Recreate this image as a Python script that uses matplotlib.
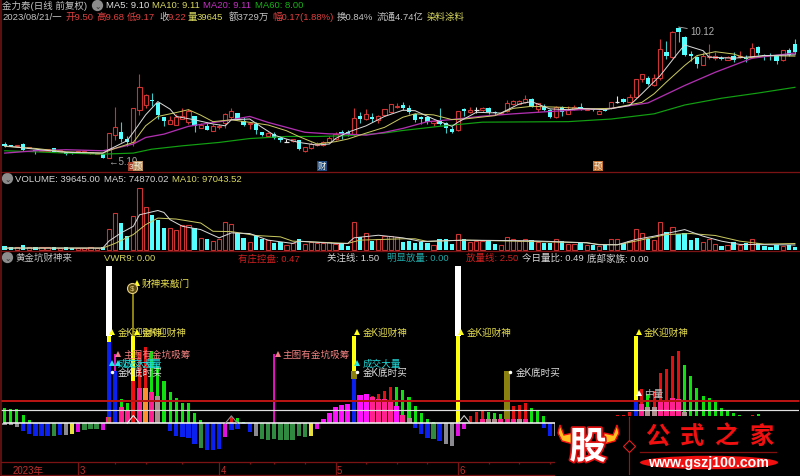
#!/usr/bin/env python3
"""daily k-line, volume and the 黄金坑财神来 indicator, black terminal style"""
import matplotlib
matplotlib.use('Agg')
import numpy as np
import matplotlib.pyplot as plt
import matplotlib.patheffects as pe
from matplotlib.patches import Rectangle, Ellipse, Polygon

plt.rcParams['font.family'] = ['Liberation Sans', 'Noto Sans CJK SC']

# candles, one per trading day
opens = [5.62, 5.60, 5.53, 5.62, 5.45, 5.40, 5.36, 5.37, 5.45, 5.32,
         5.32, 5.30, 5.30, 5.30, 5.26, 5.25, 5.22, 5.07, 5.96, 6.10,
         5.83, 5.68, 6.92, 7.12, 7.32, 7.18, 6.64, 6.39, 6.37, 6.60,
         6.45, 6.68, 6.22, 6.32, 6.12, 6.27, 6.42, 6.66, 6.81, 6.49,
         6.39, 6.40, 6.08, 5.94, 6.01, 5.87, 5.71, 5.73, 5.76, 5.35,
         5.48, 5.59, 5.58, 5.68, 5.81, 6.07, 6.07, 6.00, 6.68, 6.58,
         6.64, 6.55, 6.73, 6.86, 7.04, 7.12, 7.01, 6.79, 6.66, 6.67,
         6.43, 6.52, 6.42, 6.21, 6.14, 6.97, 6.84, 6.94, 6.94, 7.01,
         6.85, 6.79, 6.90, 7.15, 7.17, 7.22, 7.35, 6.97, 7.07, 6.92,
         6.64, 7.06, 6.79, 6.97, 7.05, 6.94, 6.96, 6.79, 6.94, 6.99,
         7.25, 7.34, 7.25, 7.43, 8.12, 8.17, 7.89, 8.15, 9.17, 8.97,
         10.10, 9.75, 9.08, 8.98, 8.67, 8.97, 8.92, 8.93, 8.85, 9.02,
         8.97, 8.94, 8.97, 9.35, 9.05, 9.05, 9.02, 8.84, 9.25, 9.48]
closes = [5.53, 5.54, 5.59, 5.40, 5.49, 5.37, 5.39, 5.42, 5.30, 5.39,
          5.23, 5.26, 5.35, 5.36, 5.30, 5.27, 5.08, 6.04, 6.28, 5.83,
          5.68, 7.02, 7.80, 7.50, 7.27, 6.73, 6.50, 6.54, 6.67, 6.68,
          6.90, 6.32, 6.35, 6.14, 6.30, 6.30, 6.77, 6.90, 6.60, 6.37,
          6.41, 6.14, 5.96, 6.04, 5.86, 5.76, 5.71, 5.81, 5.42, 5.49,
          5.62, 5.63, 5.71, 5.87, 6.01, 5.99, 5.99, 6.62, 6.60, 6.76,
          6.60, 6.71, 6.96, 7.14, 7.09, 6.99, 6.84, 6.53, 6.58, 6.48,
          6.51, 6.38, 6.22, 6.08, 6.88, 6.90, 6.94, 6.94, 6.99, 6.84,
          6.80, 6.83, 7.20, 7.28, 7.29, 7.34, 7.05, 7.19, 6.93, 6.64,
          7.06, 6.84, 6.92, 7.05, 6.98, 6.99, 6.92, 6.90, 6.90, 7.22,
          7.25, 7.25, 7.44, 8.11, 8.30, 7.94, 8.17, 9.26, 9.02, 9.92,
          9.94, 9.05, 9.02, 8.71, 9.00, 9.00, 9.00, 8.88, 8.98, 8.87,
          9.00, 8.88, 9.33, 9.11, 9.02, 9.00, 8.83, 9.22, 9.05, 9.15]
highs = [5.68, 5.60, 5.59, 5.65, 5.49, 5.40, 5.40, 5.43, 5.45, 5.39,
         5.33, 5.30, 5.35, 5.40, 5.30, 5.27, 5.25, 6.04, 7.03, 6.45,
         5.91, 7.02, 8.30, 7.54, 7.60, 7.22, 6.64, 6.68, 6.77, 7.02,
         6.96, 6.71, 6.42, 6.45, 6.39, 6.39, 6.83, 6.99, 6.83, 6.64,
         6.41, 6.45, 6.10, 6.07, 6.07, 5.91, 5.83, 5.83, 5.78, 5.50,
         5.68, 5.68, 5.75, 5.94, 6.07, 6.14, 6.14, 6.99, 6.86, 6.96,
         6.81, 6.73, 6.96, 7.17, 7.19, 7.22, 7.12, 6.80, 6.71, 6.71,
         6.53, 6.99, 6.46, 6.30, 6.88, 6.99, 7.05, 7.05, 7.03, 7.03,
         6.89, 6.84, 7.33, 7.31, 7.31, 7.51, 7.38, 7.20, 7.15, 6.97,
         7.07, 7.10, 7.07, 7.12, 7.20, 7.01, 6.97, 6.92, 6.97, 7.22,
         7.48, 7.40, 7.53, 8.12, 8.30, 8.22, 8.30, 9.66, 9.58, 9.98,
         10.12, 9.79, 9.21, 9.02, 9.15, 9.47, 9.17, 9.02, 9.02, 9.17,
         9.21, 9.05, 9.51, 9.40, 9.10, 9.12, 9.05, 9.22, 9.33, 9.64]
lows = [5.49, 5.54, 5.53, 5.37, 5.45, 5.23, 5.35, 5.37, 5.30, 5.32,
        5.20, 5.25, 5.30, 5.29, 5.25, 5.25, 5.08, 5.07, 5.78, 5.68,
        5.55, 5.53, 6.73, 6.99, 7.07, 6.60, 6.32, 6.39, 6.37, 6.58,
        6.39, 6.09, 6.22, 6.14, 6.12, 6.19, 6.22, 6.60, 6.55, 6.30,
        6.19, 6.01, 5.94, 5.91, 5.83, 5.71, 5.68, 5.71, 5.40, 5.32,
        5.42, 5.55, 5.55, 5.65, 5.78, 5.83, 5.94, 5.94, 6.42, 6.55,
        6.48, 6.42, 6.71, 6.83, 6.99, 6.94, 6.78, 6.48, 6.40, 6.38,
        6.33, 6.35, 6.05, 6.05, 6.12, 6.71, 6.81, 6.81, 6.84, 6.79,
        6.75, 6.78, 6.87, 7.12, 7.15, 7.20, 7.03, 6.87, 6.89, 6.61,
        6.62, 6.69, 6.79, 6.94, 6.94, 6.92, 6.90, 6.78, 6.88, 6.97,
        7.20, 7.20, 7.22, 7.40, 8.02, 7.90, 7.87, 8.10, 8.89, 8.94,
        9.53, 9.00, 8.83, 8.56, 8.66, 8.89, 8.87, 8.84, 8.84, 8.79,
        8.92, 8.79, 8.92, 9.05, 8.84, 8.84, 8.69, 8.82, 9.00, 9.08]

# price averages, read at the turning points of each line
ma5_x = [0, 5, 10, 16, 17, 20, 21, 23, 25, 27, 28, 31, 34, 36, 37, 40, 42, 44, 46, 48, 51, 53, 54,
         56, 59, 62, 65, 67, 70, 73, 74, 77, 81, 84, 86, 89, 92, 94, 98, 102, 104, 107, 110, 111,
         114, 115, 119, 124, 129]
ma5_y = [5.55, 5.42, 5.30, 5.27, 5.40, 5.75, 6.07, 6.74, 7.25, 6.96, 6.68, 6.55, 6.39, 6.32, 6.55,
         6.58, 6.26, 5.96, 5.81, 5.68, 5.58, 5.62, 5.83, 6.07, 6.32, 6.68, 6.92, 6.90, 6.58, 6.30,
         6.46, 6.84, 6.81, 7.16, 7.25, 6.97, 6.94, 6.99, 6.94, 7.10, 7.55, 8.25, 9.15, 9.43, 9.21,
         8.96, 8.92, 9.02, 9.05]
ma10_x = [0, 5, 10, 16, 18, 21, 23, 25, 28, 30, 32, 34, 37, 41, 43, 46, 48, 51, 54, 56, 59, 62, 65,
          67, 70, 73, 75, 80, 83, 86, 91, 95, 99, 104, 106, 108, 111, 113, 116, 119, 121, 124, 129]
ma10_y = [5.53, 5.45, 5.32, 5.27, 5.45, 5.68, 6.32, 6.68, 6.83, 6.94, 6.73, 6.48, 6.55, 6.42, 6.35,
          6.13, 5.91, 5.62, 5.71, 5.81, 6.04, 6.26, 6.65, 6.78, 6.74, 6.56, 6.58, 6.71, 6.99, 7.07,
          7.03, 6.97, 6.99, 7.22, 7.55, 8.00, 8.64, 9.02, 9.17, 9.08, 8.92, 9.02, 9.00]
ma20_x = [0, 5, 10, 16, 18, 21, 23, 26, 30, 33, 36, 40, 43, 46, 49, 53, 56, 59, 62, 65, 69, 73, 78,
          83, 89, 94, 99, 105, 111, 116, 122, 129]
ma20_y = [5.27, 5.36, 5.40, 5.36, 5.45, 5.62, 5.87, 6.00, 6.30, 6.41, 6.51, 6.68, 6.45, 6.26, 6.07,
          6.01, 6.00, 5.96, 6.07, 6.22, 6.48, 6.56, 6.69, 6.78, 6.87, 6.94, 6.99, 7.20, 7.87, 8.38,
          8.92, 9.12]
ma60_x = [0, 5, 10, 16, 21, 24, 29, 35, 40, 46, 51, 56, 62, 65, 71, 78, 92, 99, 106, 111, 117, 123, 129]
ma60_y = [5.36, 5.32, 5.27, 5.23, 5.27, 5.42, 5.55, 5.68, 5.83, 5.91, 5.91, 5.94, 6.04, 6.14, 6.30,
          6.46, 6.48, 6.58, 6.78, 7.12, 7.38, 7.58, 7.80]

# volume in thousands of lots
volume = [59, 49, 49, 74, 49, 44, 44, 44, 44, 34, 44, 34, 34, 34, 39, 34, 49, 314, 549, 402,
          216, 510, 916, 637, 519, 451, 333, 328, 304, 377, 377, 333, 181, 157, 137, 157, 412, 387, 255, 181,
          122, 206, 167, 147, 98, 118, 78, 98, 167, 88, 118, 98, 98, 118, 88, 98, 59, 417, 196, 255,
          132, 157, 206, 206, 191, 118, 132, 108, 118, 108, 78, 167, 157, 88, 245, 167, 118, 127, 137, 137,
          88, 69, 196, 157, 127, 167, 147, 118, 108, 98, 167, 132, 88, 88, 98, 78, 69, 59, 69, 157,
          167, 98, 127, 314, 255, 167, 147, 417, 274, 343, 245, 255, 147, 186, 118, 167, 88, 59, 78, 118,
          78, 98, 157, 108, 59, 49, 78, 59, 69, 39]
vol5_x = [0, 16, 17, 19, 21, 22, 25, 26, 27, 29, 32, 35, 37, 40, 43, 47, 48, 54, 56, 57, 61, 65, 68,
          75, 86, 95, 97, 100, 103, 106, 111, 114, 117, 120, 129]
vol5_y = [29, 29, 132, 255, 353, 524, 588, 559, 451, 353, 304, 181, 255, 245, 147, 98, 132, 98, 98,
          181, 220, 181, 127, 147, 137, 108, 78, 78, 157, 206, 304, 206, 132, 83, 75]
vol10_x = [0, 16, 18, 21, 23, 25, 28, 32, 34, 37, 41, 45, 47, 51, 56, 58, 65, 67, 69, 75, 86, 95, 97,
           100, 103, 108, 112, 116, 120, 124, 129]
vol10_y = [29, 29, 98, 230, 377, 475, 461, 402, 279, 274, 216, 196, 132, 118, 98, 147, 167, 167, 127,
           147, 127, 108, 83, 78, 132, 230, 245, 216, 132, 88, 97]

# indicator histogram above zero: r rising, g falling
up_i = [0, 1, 2, 3, 4, 19, 20, 22, 23, 24, 25, 26, 27, 28, 29, 30, 31, 32, 37, 38, 39,
        60, 61, 62, 63, 64, 65, 66, 67, 68, 69, 70, 76, 77, 78, 79, 80, 81, 82, 83, 84, 85, 86, 87, 88,
        100, 101, 102, 104, 105, 106, 107, 108, 109, 110, 111, 112, 113, 114, 115, 116, 117, 118, 119, 120, 122, 123]
up_v = [1.75, 1.6, 1.6, 0.95, 0.38, 2.78, 2.29, 8.11, 8.69, 8.23, 6.59, 4.8, 3.54, 2.86, 2.29, 2.29, 1.14, 0.38, 0.69, 0.61, 0.11,
        3.16, 3.35, 3.66, 4.11, 4.11, 3.85, 3.05, 1.94, 1.18, 0.5, 0.11, 0.88, 1.26, 1.45, 1.33, 1.18, 1.07, 1.45, 1.94, 2.1, 2.32, 1.71, 1.45, 0.88,
        0.91, 0.95, 1.33, 3.92, 3.35, 3.73, 5.71, 6.2, 7.66, 8.23, 6.67, 5.37, 4.0, 3.16, 2.86, 2.4, 1.71, 1.45, 1.14, 0.91, 0.95, 1.03]
up_c = list('gggggggrrgggggggggrgg' 'rrrrgggggggrrrgggrrrrggg' 'rrrrgrrrrrggggggggggrg')

# pale under-layer: m magenta, p pink, o orange, y grey
pale_i = [17, 19, 20, 22, 23, 24, 25, 52, 53, 54, 55, 56, 58, 59, 60, 61, 62, 63, 64, 65, 66,
          78, 79, 80, 81, 82, 83, 84, 85, 104, 105, 106, 107, 108, 109, 110, 111]
pale_v = [0.7, 1.83, 1.45, 4.04, 4.04, 3.54, 3.16, 0.5, 1.18, 1.83, 2.1, 2.17, 3.24, 3.35, 2.97, 2.8, 2.8, 2.6, 1.94, 1.0, 0.6,
          0.5, 0.5, 0.5, 0.5, 0.5, 0.5, 0.5, 0.5, 2.2, 1.83, 1.83, 2.4, 2.48, 2.86, 2.78, 1.26]
pale_c = list('ppppopy' 'mmmmmmmppppmpy' 'pyypppyp' 'pyyppppy')

# below zero: b blue, d dull green, y grey, k yellow, m magenta
neg_i = [0, 1, 2, 3, 4, 5, 6, 7, 8, 9, 10, 11, 12, 13, 14, 15, 16,
         27, 28, 29, 30, 31, 32, 33, 34, 35, 36, 37, 38, 39, 40, 41, 42, 43, 44,
         45, 46, 47, 48, 49, 50, 51, 67, 68, 69, 70, 71, 72, 73, 74, 75, 88, 89, 90]
neg_v = [-0.15, -0.23, -0.38, -0.84, -1.2, -1.5, -1.5, -1.45, -1.45, -1.37, -1.37, -1.2, -1.0, -0.76, -0.65, -0.65, -0.8,
         -0.91, -1.4, -1.6, -1.68, -2.36, -2.83, -3.1, -3.1, -2.95, -1.6, -0.76, -0.65, -0.08, -1.03, -1.5, -1.8, -1.9, -1.8,
         -1.87, -1.87, -1.9, -1.4, -1.6, -1.4, -0.65, -0.57, -1.2, -1.7, -1.8, -2.0, -2.4, -2.55, -1.4, -0.6, -0.5, -1.5, -1.4]
neg_c = list('yyybbbbbdbykmdddm' 'bbbbbdbbbmbbbbyddd' 'dddddkm' 'bbbdbyymm' 'bby')

# signal columns
sig_i = [17, 17, 17, 17, 18, 18, 21, 21, 21, 44, 57, 57, 57, 74, 74, 82, 103, 103]
sig_lo = [0.0, 0.7, 9.26, 10.0, 0.0, 6.0, 0.0, 4.88, 10.0, 0.0, 0.0, 5.07, 6.0, 0.0, 10.0, 0.5, 0.0, 2.59]
sig_hi = [6.0, 9.26, 10.0, 18.0, 6.0, 7.9, 4.88, 10.0, 14.8, 7.9, 5.07, 6.0, 10.0, 10.0, 18.0, 6.0, 2.4, 10.0]
sig_kind = ['olive_thin', 'blue', 'yellow', 'white', 'blue', 'mag', 'red', 'yellow', 'olive_thin', 'mag',
            'blue', 'olive_wide', 'yellow', 'yellow', 'white', 'olive_wide', 'blue', 'yellow']

tri_i = [21, 37, 75]
tri_v = [0.9, 0.85, 0.88]
tri_c = ['#f0f0f0', '#909090', '#d0d0d0']

# signal labels
lab_i = [21, 17, 21, 18, 44, 17, 18, 57, 17, 57, 57, 74, 82, 103, 103]
lab_v = [16.0, 10.4, 10.4, 7.9, 7.9, 6.9, 6.9, 6.9, 5.9, 5.9, 10.4, 10.4, 5.9, 10.4, 3.46]
lab_t = ['财神来敲门', '金K迎财神', '金K迎财神', '主图有金坑吸筹', '主图有金坑吸筹', '成交大量', '成交大量', '成交大量',
         '金K底时买', '金K底时买', '金K迎财神', '金K迎财神', '金K底时买', '金K迎财神', '中量']
lab_k = ['gold', 'gold', 'gold', 'pink', 'pink', 'cyan', 'cyan', 'cyan', 'dot', 'dot', 'gold', 'gold', 'dot', 'gold', 'white']

month_ticks = [12, 35, 54, 74]
month_labels = ['3', '4', '5', '6']
week_ticks = [18, 23, 29, 40, 44, 49, 59, 64, 69, 79, 84, 89]

RED = '#cc3333'
CYAN = '#55ffff'
BORDER = '#7a1414'
bars = np.arange(len(opens))
opens, closes, highs, lows = map(np.array, (opens, closes, highs, lows))
PX_PER_BAR = 6.126


def panel(top, bottom, left=1, right=799):
    ax = fig.add_axes([left / 800, 1 - bottom / 477, (right - left) / 800, (bottom - top) / 477])
    ax.set_facecolor('black')
    ax.set_xlim((left - 4.7) / PX_PER_BAR, (right - 4.7) / PX_PER_BAR)
    ax.set_xticks([])
    ax.set_yticks([])
    for s in ax.spines.values():
        s.set_visible(False)
    return ax


def px(n):
    # pixels to line width / offset points
    return n * 0.72


def icon(x, y):
    fig.text(x / 800, 1 - y / 477, '⌄', color='#303030', fontsize=5.5, ha='center', va='center', family='DejaVu Sans',
             bbox=dict(boxstyle='circle,pad=0.15', fc='#8c8c8c', ec='none'))


def head(x, y, s, color, size=6.8):
    fig.text(x / 800, 1 - y / 477, s, color=color, fontsize=size, ha='left', va='center')


fig = plt.figure(figsize=(8.0, 4.77), dpi=100, facecolor='black')

# price panel
ax = panel(0, 173)
ax.set_ylim(10.12 - 145 / 26, 10.12 + 28 / 26)
rising = closes > opens
falling = closes < opens
doji = closes == opens
ax.vlines(bars[rising], lows[rising], highs[rising], color=RED, lw=px(1.1))
ax.bar(bars[rising], (closes - opens)[rising], bottom=opens[rising], width=0.68,
       facecolor='black', edgecolor=RED, lw=px(1.1), zorder=2)
ax.vlines(bars[falling], lows[falling], highs[falling], color='#3fc8c8', lw=px(1.1))
ax.bar(bars[falling], (closes - opens)[falling], bottom=opens[falling], width=0.72, color=CYAN, zorder=2)
ax.vlines(bars[doji], lows[doji], highs[doji], color='#e8e8e8', lw=px(1.1))
ax.hlines(closes[doji], bars[doji] - 0.35, bars[doji] + 0.35, color='#e8e8e8', lw=px(1.2))
ax.plot(ma60_x, ma60_y, color='#12a012', lw=px(1.2), zorder=3)
ax.plot(ma20_x, ma20_y, color='#b030b0', lw=px(1.3), zorder=3)
ax.plot(ma10_x, ma10_y, color='#c8c860', lw=px(1.0), zorder=3)
ax.plot(ma5_x, ma5_y, color='#d8d8d8', lw=px(1.0), zorder=3)
ax.annotate('10.12', xy=(110, 10.12), xytext=(px(11.5), px(-4)), textcoords='offset points',
            color='#b0b0b0', fontsize=6.9, va='center', ha='left',
            arrowprops=dict(arrowstyle='-', color='#b0b0b0', lw=0.6, shrinkA=0, shrinkB=0))
ax.annotate('←5.10', xy=(17, 5.07), xytext=(0, px(-2.4)), textcoords='offset points',
            color='#a8a8a8', fontsize=6.9, va='center', ha='left')
# calendar flags along the bottom of the panel
for i, s, c in [(20.6, '3', '#a03c28'), (21.8, '预', '#b89060'), (51.8, '财', '#1f4a80'), (96.9, '预', '#c07030')]:
    ax.text(i, 0.032, s, transform=ax.get_xaxis_transform(), color='#f4f0e0', fontsize=6.0, ha='center', va='center',
            bbox=dict(boxstyle='square,pad=0.12', fc=c, ec='none'), zorder=5)

# volume panel
ax = panel(173, 252)
ax.set_ylim(-14.7, 79 * 14.7)
volume = np.array(volume)
ax.bar(bars[~falling], volume[~falling], width=0.68, facecolor='black', edgecolor=RED, lw=px(1.1))
ax.bar(bars[falling], volume[falling], width=0.72, color=CYAN)
ax.plot(vol10_x, vol10_y, color='#c8c860', lw=px(1.0))
ax.plot(vol5_x, vol5_y, color='#d8d8d8', lw=px(1.0))

# indicator panel
ax = panel(252, 463)
ax.set_ylim((424.3 - 463) / 8.75, (424.3 - 252) / 8.75)
ax.axhline(2.5, color='#b81414', lw=px(2), zorder=5)
ax.axhline(1.5, color='#e0e0e0', lw=px(1.2), zorder=5)
up_colors = {'r': '#e01010', 'g': '#10e010'}
pale_colors = {'m': '#ff10ff', 'p': '#ff2090', 'o': '#ff9030', 'y': '#b09090'}
neg_colors = {'b': '#0a20f0', 'd': '#308a40', 'y': '#8a8a90', 'k': '#e8e040', 'm': '#e010e0'}
ax.bar(up_i, up_v, width=0.5, color=[up_colors[k] for k in up_c], zorder=2)
ax.bar(pale_i, pale_v, width=0.82, color=[pale_colors[k] for k in pale_c], zorder=3)
ax.bar(neg_i, neg_v, width=0.72, color=[neg_colors[k] for k in neg_c], zorder=2)
sig_style = {'blue': ('#0a20f0', 0.65), 'yellow': ('#ffff10', 0.65), 'white': ('#ffffff', 0.9),
             'olive_thin': ('#8a8010', 0.33), 'olive_wide': ('#8a8010', 1.1), 'mag': ('#e010c0', 0.33),
             'red': ('#f01010', 0.65)}
for i, lo, hi, k in zip(sig_i, sig_lo, sig_hi, sig_kind):
    c, w = sig_style[k]
    ax.bar(i, hi - lo, bottom=lo, width=w, color=c, zorder=4)
ax.plot([-0.1, 90], [0, 0], color='#f0f0f0', lw=px(1.6), zorder=6)
for i, v, c in zip(tri_i, tri_v, tri_c):
    ax.plot([i - 1, i, i + 1], [0, v, 0], color=c, lw=px(1.1), zorder=7)

lab_style = {'gold': ('#e8e050', '#ffff20', '^'), 'pink': ('#f08080', '#f08080', '^'), 'cyan': ('#20d8d8', '#20e8e8', '^'),
             'dot': ('#e0e0e0', '#ffffff', 'o'), 'white': ('#c0c0c0', '#ffffff', '^')}
for i, v, s, k in zip(lab_i, lab_v, lab_t, lab_k):
    tc, mc, m = lab_style[k]
    ax.plot(i + 0.55, v, m, color=mc, ms=px(6) if m == '^' else px(3.5), mew=0, zorder=9)
    ax.annotate(s, xy=(i, v), xytext=(px(8.5), 0), textcoords='offset points', color=tc,
                fontsize=6.9, va='center', ha='left', zorder=9)
# money bag of the 财神来敲门 signal
ax.plot(20.8, 15.5, 'o', ms=px(10), mfc='#5a4a10', mec='#e8d080', mew=0.8, zorder=9)
ax.text(20.8, 15.5, '$', color='#e8d080', fontsize=5.5, ha='center', va='center', zorder=10)

# time axis, the logo covers its right part
ax = panel(463, 477, right=555)
ax.set_ylim(0, 1)
for i, s in zip(month_ticks, month_labels):
    ax.axvline(i, color=BORDER, lw=px(1.2))
    ax.text(i + 0.25, 0.45, s, color='#c03030', fontsize=6.9, va='center', ha='left')
ax.vlines(week_ticks, 0.85, 1.0, color=BORDER, lw=px(1.2))
ax.text(0.02, 0.45, '2023年', transform=ax.transAxes, color='#c03030', fontsize=6.9, va='center', ha='left')

# overlay in pixel coordinates for frame, headers and logo
ov = fig.add_axes([0, 0, 1, 1], facecolor='none', zorder=20)
ov.set_xlim(0, 800)
ov.set_ylim(477, 0)
ov.axis('off')
for y in (173, 252, 463, 475.5):
    ov.plot([1, 800 if y < 400 else 555], [y, y], color=BORDER, lw=px(1.3))
ov.plot([1, 1], [0, 477], color=BORDER, lw=px(1.5))

head(2, 6, '金力泰(日线 前复权)', '#c4c4c4')
icon(97.5, 6.5)
head(106, 6, 'MA5: 9.10', '#e0e0e0')
head(152, 6, 'MA10: 9.11', '#d8d860')
head(203, 6, 'MA20: 9.11', '#c030c0')
head(255, 6, 'MA60: 8.00', '#18b018')
head(2, 17.5, '2023/08/21/一', '#c4c4c4')
head(65, 17.5, '开9.50', '#e04040')
head(96, 17.5, '高9.68', '#e04040')
head(127, 17.5, '低9.17', '#e04040')
head(159, 17.5, '收', '#c4c4c4')
head(168, 17.5, '9.22', '#e04040')
head(188, 17.5, '量', '#d8d860')
head(197, 17.5, '39645', '#d8d860')
head(229, 17.5, '额3729万', '#c4c4c4')
head(272, 17.5, '幅0.17(1.88%)', '#e04040')
head(337, 17.5, '换0.84%', '#c4c4c4')
head(377, 17.5, '流通4.74亿', '#c4c4c4')
head(427, 17.5, '染料涂料', '#d8d860')

icon(7.5, 179.5)
head(15, 179.5, 'VOLUME: 39645.00', '#d4d4d4')
head(104, 179.5, 'MA5: 74870.02', '#d4d4d4')
head(172, 179.5, 'MA10: 97043.52', '#d8d860')

icon(7.5, 258.5)
head(15, 258.5, '黄金坑财神来', '#c4c4c4')
head(104, 258.5, 'VWR9: 0.00', '#d8d860')
head(238, 258.5, '有庄控盘: 0.47', '#d02020')
head(327, 258.5, '关注线: 1.50', '#d8d8d8')
head(387, 258.5, '明显放量: 0.00', '#20a8a8')
head(466, 258.5, '放量线: 2.50', '#d02020')
head(522, 258.5, '今日量比: 0.49', '#d8d8d8')
head(587, 258.5, '底部家族: 0.00', '#d8d8d8')

# 公式之家 logo
ov.add_patch(Rectangle((555, 417), 245, 60, fc='black', ec='none', zorder=2))
for pts in ([(560, 426), (564, 436), (573, 434), (573, 445), (562, 442), (558, 434)],
            [(617, 426), (613, 436), (604, 434), (604, 445), (615, 442), (619, 434)]):
    ov.add_patch(Polygon(pts, closed=True, fc='#ffc020', ec='#f01010', lw=1.0, zorder=3))
ov.text(588, 448, '股', color='white', fontsize=27, fontweight='bold', family=['Noto Sans CJK SC'],
        ha='center', va='center', zorder=4,
        path_effects=[pe.withStroke(linewidth=2.5, foreground='#e01010')])
ov.plot([628.5, 628.5], [418, 475], color='#a01010', lw=px(1.2), zorder=3)
ov.plot(628.5, 447, 'D', ms=px(8), mfc='black', mec='#e02020', mew=0.8, zorder=4)
for x, s in zip((657, 692, 727, 762), '公式之家'):
    ov.text(x, 437, s, color='#f01010', fontsize=17.5, fontweight='bold', family=['Noto Sans CJK SC'],
            ha='center', va='center', zorder=4)
ov.plot([640, 776], [452.7, 452.7], color='#801010', lw=px(1.3), zorder=3)
ov.add_patch(Ellipse((709, 463.5), 138, 13.5, fc='#f01010', ec='none', zorder=3))
ov.text(708, 463.5, 'www.gszj100.com', color='white', fontsize=10.2, fontweight='bold',
        ha='center', va='center', zorder=4)

fig.savefig('out.png', dpi=100, facecolor='black')
